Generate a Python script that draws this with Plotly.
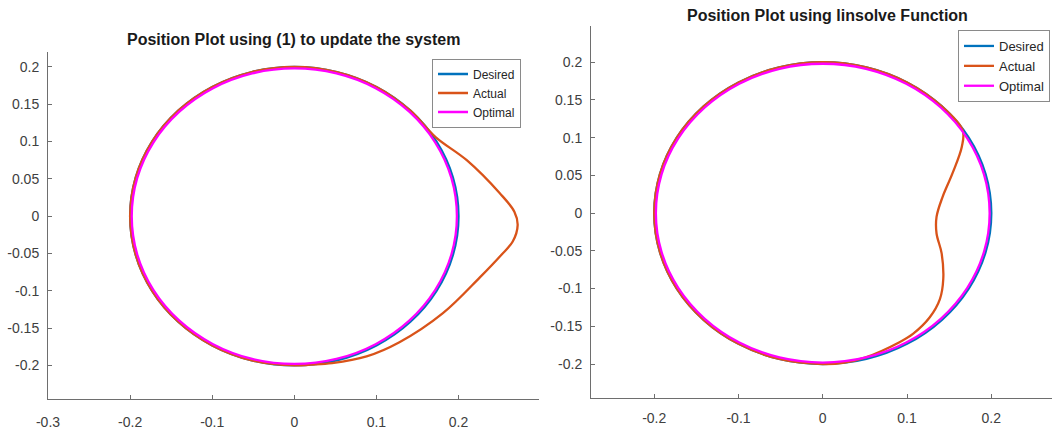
import plotly.graph_objects as go

# ---------------- data ----------------
# Desired circle (r = 0.2), points every 15 degrees
desired_x = [0.2, 0.1932, 0.1732, 0.1414, 0.1, 0.0518, 0.0, -0.0518, -0.1, -0.1414, -0.1732, -0.1932,
             -0.2, -0.1932, -0.1732, -0.1414, -0.1, -0.0518, 0.0, 0.0518, 0.1, 0.1414, 0.1732, 0.1932, 0.2]
desired_y = [0.0, 0.0518, 0.1, 0.1414, 0.1732, 0.1932, 0.2, 0.1932, 0.1732, 0.1414, 0.1, 0.0518,
             0.0, -0.0518, -0.1, -0.1414, -0.1732, -0.1932, -0.2, -0.1932, -0.1732, -0.1414, -0.1, -0.0518, 0.0]

# Optimal (slightly inside desired)
optimal_x = [0.198, 0.1913, 0.1715, 0.14, 0.099, 0.0513, 0.0, -0.0513, -0.099, -0.14, -0.1715, -0.1913,
             -0.198, -0.1913, -0.1715, -0.14, -0.099, -0.0513, 0.0, 0.0513, 0.099, 0.14, 0.1715, 0.1913, 0.198]
optimal_y = [0.0, 0.0513, 0.099, 0.14, 0.1715, 0.1913, 0.198, 0.1913, 0.1715, 0.14, 0.099, 0.0513,
             0.0, -0.0513, -0.099, -0.14, -0.1715, -0.1913, -0.198, -0.1913, -0.1715, -0.14, -0.099, -0.0513, 0.0]

# Actual, left plot (update with (1))
actual1_x = [0.172, 0.1414, 0.1, 0.0518, 0.0, -0.0518, -0.1, -0.1414, -0.1732, -0.1932, -0.2, -0.1932,
             -0.1732, -0.1414, -0.1, -0.0518, 0.0, 0.02, 0.046, 0.088, 0.128, 0.181, 0.226, 0.252,
             0.266, 0.272, 0.268, 0.25, 0.21, 0.172]
actual1_y = [0.106, 0.1414, 0.1732, 0.1932, 0.2, 0.1932, 0.1732, 0.1414, 0.1, 0.0518, 0.0, -0.0518,
             -0.1, -0.1414, -0.1732, -0.1932, -0.2, -0.199, -0.197, -0.188, -0.169, -0.13, -0.082, -0.052,
             -0.034, -0.012, 0.006, 0.031, 0.075, 0.106]

# Actual, right plot (linsolve)
actual2_x = [0.166, 0.1414, 0.1, 0.0518, 0.0, -0.0518, -0.1, -0.1414, -0.1732, -0.1932, -0.2, -0.1932,
             -0.1732, -0.1414, -0.1, -0.0518, 0.0, 0.024, 0.05, 0.091, 0.107, 0.127, 0.139, 0.143,
             0.141, 0.135, 0.135, 0.142, 0.154, 0.165, 0.166]
actual2_y = [0.11, 0.1414, 0.1732, 0.1932, 0.2, 0.1932, 0.1732, 0.1414, 0.1, 0.0518, 0.0, -0.0518,
             -0.1, -0.1414, -0.1732, -0.1932, -0.2, -0.1985, -0.1915, -0.171, -0.16, -0.138, -0.114, -0.087,
             -0.053, -0.027, -0.005, 0.021, 0.053, 0.088, 0.11]

series_names = ["Desired", "Actual", "Optimal"]
titles = ["Position Plot using (1) to update the system", "Position Plot using linsolve Function"]

x_ticks_left = [-0.3, -0.2, -0.1, 0, 0.1, 0.2]
x_ticks_left_text = ["-0.3", "-0.2", "-0.1", "0", "0.1", "0.2"]
x_ticks_right = [-0.2, -0.1, 0, 0.1, 0.2]
x_ticks_right_text = ["-0.2", "-0.1", "0", "0.1", "0.2"]
y_ticks = [-0.2, -0.15, -0.1, -0.05, 0, 0.05, 0.1, 0.15, 0.2]
y_ticks_text = ["-0.2", "-0.15", "-0.1", "-0.05", "0", "0.05", "0.1", "0.15", "0.2"]

# ---------------- styling ----------------
colors = {"Desired": "#0072BD", "Actual": "#D95319", "Optimal": "#FF00FF"}
FONT = "Liberation Sans, Arial, sans-serif"
AX = "#6e6e6e"
TXT = "#404040"

fig = go.Figure()

def add_panel(xa, ya, leg, ax_x, ay_y):
    data = [("Desired", desired_x, desired_y), ("Actual", ax_x, ay_y), ("Optimal", optimal_x, optimal_y)]
    for name, xs, ys in data:
        fig.add_trace(go.Scatter(x=xs, y=ys, mode="lines", name=name,
                                 line=dict(color=colors[name], width=2.3, shape="spline", smoothing=1.0),
                                 xaxis=xa, yaxis=ya, legend=leg, hoverinfo="skip"))

add_panel("x", "y", "legend", actual1_x, actual1_y)
add_panel("x2", "y2", "legend2", actual2_x, actual2_y)

W, H = 1052, 429

def ax_common():
    return dict(showline=True, linecolor=AX, linewidth=1, ticks="inside", ticklen=4, tickcolor=AX,
                showgrid=False, zeroline=False, mirror=False, automargin=False,
                tickfont=dict(family=FONT, size=14, color=TXT), fixedrange=True)

fig.update_layout(
    template="none",
    width=W, height=H, margin=dict(l=0, r=0, t=0, b=0),
    paper_bgcolor="white", plot_bgcolor="white",
    xaxis=dict(domain=[48 / W, 539 / W], range=[-0.3, 0.298], anchor="y",
               tickvals=x_ticks_left, ticktext=x_ticks_left_text, ticklabelstandoff=10, **ax_common()),
    yaxis=dict(domain=[(H - 399) / H, (H - 52) / H], range=[-0.245, 0.22], anchor="x",
               tickvals=y_ticks, ticktext=y_ticks_text, ticklabelstandoff=5, **ax_common()),
    xaxis2=dict(domain=[591 / W, 1.0], range=[-0.275, 0.272], anchor="y2",
                tickvals=x_ticks_right, ticktext=x_ticks_right_text, ticklabelstandoff=7, **ax_common()),
    yaxis2=dict(domain=[(H - 398) / H, (H - 26) / H], range=[-0.245, 0.248], anchor="x2",
                tickvals=y_ticks, ticktext=y_ticks_text, ticklabelstandoff=5, **ax_common()),
    legend=dict(x=521 / W, y=(H - 93) / H, xanchor="right", yanchor="middle",
                bordercolor="#8a8a8a", borderwidth=1, bgcolor="white",
                font=dict(family=FONT, size=12, color="#262626"), tracegroupgap=0,
                itemwidth=30),
    legend2=dict(x=1050 / W, y=(H - 66) / H, xanchor="right", yanchor="middle",
                 bordercolor="#8a8a8a", borderwidth=1, bgcolor="white",
                 font=dict(family=FONT, size=13, color="#262626"), tracegroupgap=0,
                 itemwidth=30),
    showlegend=True,
    annotations=[
        dict(text="<b>" + titles[0] + "</b>", x=293 / W, y=(H - 40) / H, xref="paper", yref="paper",
             xanchor="center", yanchor="middle", showarrow=False,
             font=dict(family=FONT, size=16, color="#1a1a1a")),
        dict(text="<b>" + titles[1] + "</b>", x=827 / W, y=(H - 15) / H, xref="paper", yref="paper",
             xanchor="center", yanchor="middle", showarrow=False,
             font=dict(family=FONT, size=16, color="#1a1a1a")),
    ],
)

fig.write_html("out.html")
